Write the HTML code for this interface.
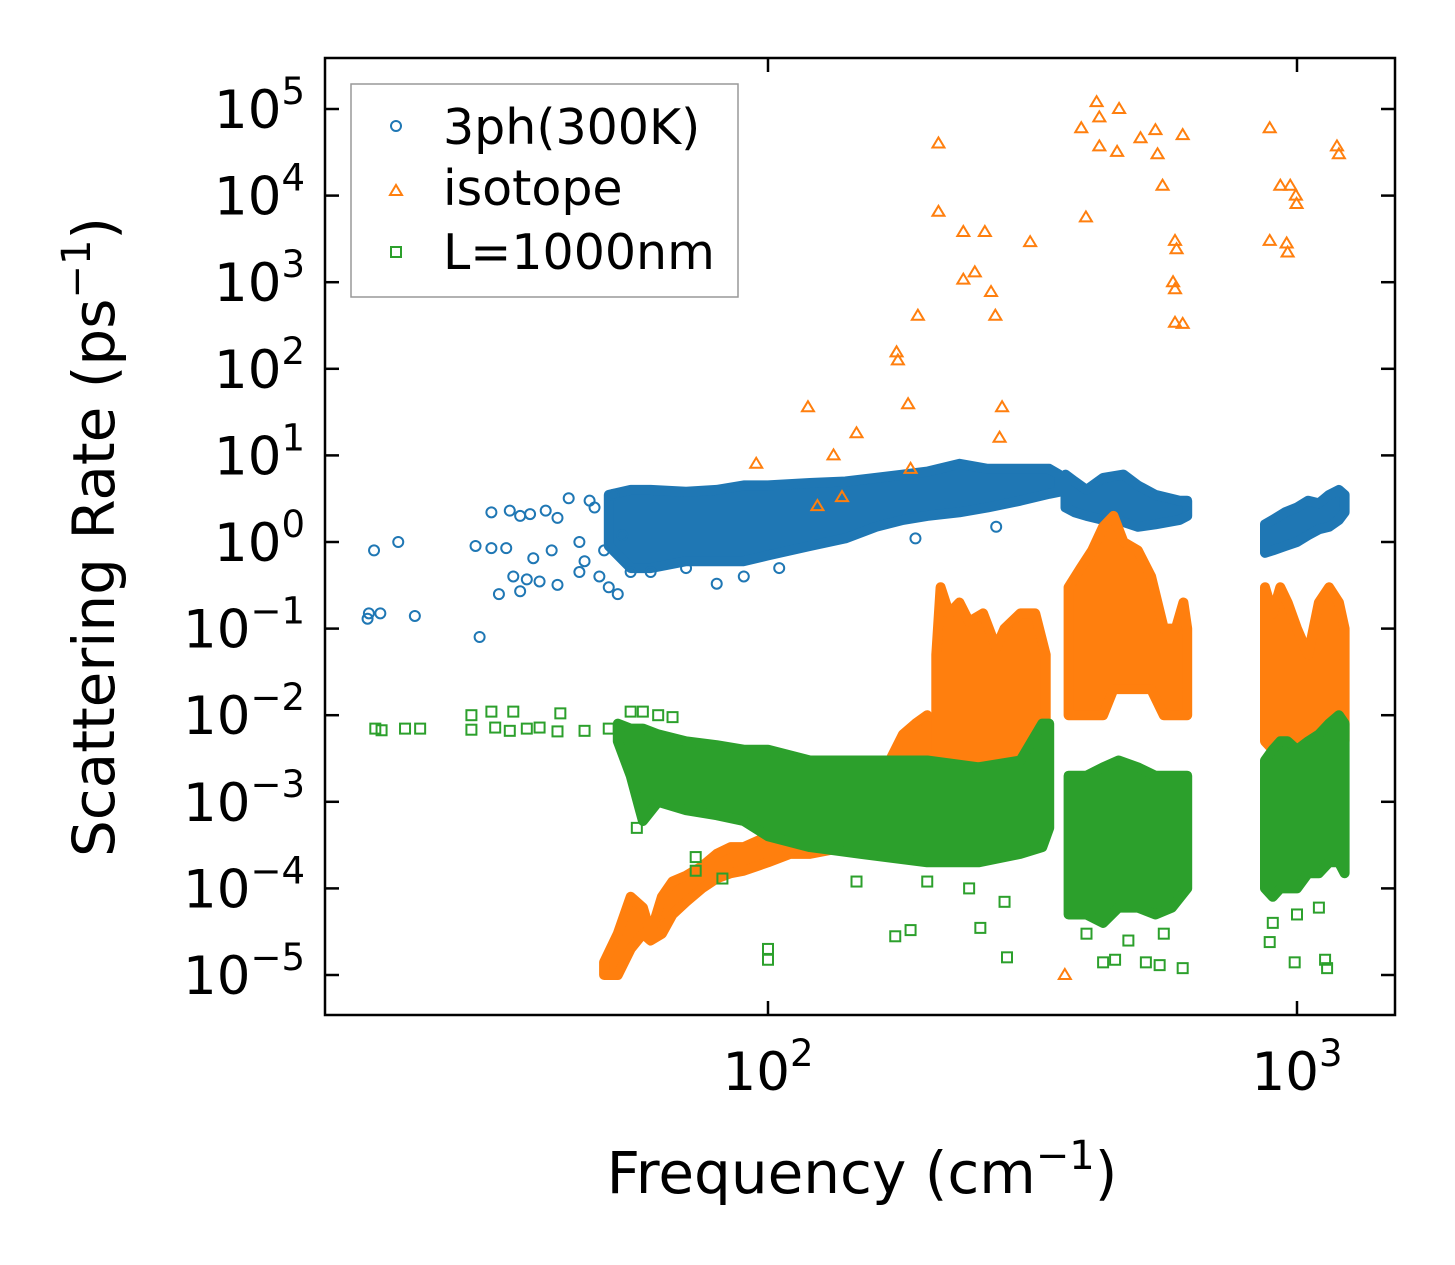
<!DOCTYPE html>
<html><head><meta charset="utf-8"><style>
html,body{margin:0;padding:0;background:#fff}
svg{display:block;font-family:"DejaVu Sans","Liberation Sans",sans-serif}
</style></head><body>
<svg id="chart" width="1455" height="1265" viewBox="0 0 1455 1265" xmlns="http://www.w3.org/2000/svg">
<rect x="0" y="0" width="1455" height="1265" fill="#fff"/>
<g id="plot"></g>
<g id="axes"></g>
<text x="862" y="1193" font-size="58" text-anchor="middle">Frequency (cm<tspan dy="-24" font-size="40">−1</tspan><tspan dy="24">)</tspan></text>
<text transform="translate(114,537) rotate(-90)" font-size="58" text-anchor="middle">Scattering Rate (ps<tspan dy="-24" font-size="40">−1</tspan><tspan dy="24">)</tspan></text>
<g>
<rect x="351" y="84" width="387" height="213" fill="#fff" stroke="#999" stroke-width="1.5"/>
<circle cx="396" cy="126" r="5" fill="none" stroke="#1f77b4" stroke-width="2"/>
<text x="443" y="144" font-size="49">3ph(300K)</text>
<path d="M390,195 L402,195 L396,185 Z" fill="none" stroke="#ff7f0e" stroke-width="2"/>
<text x="443" y="205" font-size="49">isotope</text>
<rect x="391" y="247" width="10" height="10" fill="none" stroke="#2ca02c" stroke-width="2"/>
<text x="443" y="269" font-size="49">L=1000nm</text>
</g>
</svg>
<script>
// axis ranges / ticks
const yTickExps = [-5,-4,-3,-2,-1,0,1,2,3,4,5];
const xTickExps = [2,3];
// 3ph (blue) dense bands
const blueBandFreq1 = [50,55,60,70,80,90,100,120,140,160,180,200,230,260,300,340,355];
const blueBandHi1 = [3.5,4,4,3.8,4,4.5,4.5,4.8,5,5.5,6,6.5,8,7,7,7,6];
const blueBandLo1 = [0.9,0.5,0.5,0.6,0.6,0.6,0.7,0.9,1.1,1.5,1.8,2.0,2.2,2.5,3,3.6,3.8];
const blueBandFreq2 = [365,380,400,430,470,500,540,600,620];
const blueBandHi2 = [6,5,4,5.5,6,4.5,3.5,3,3];
const blueBandLo2 = [2.5,2.2,2,1.8,1.7,1.5,1.6,1.8,2];
const blueBandFreq3 = [870,900,950,1000,1050,1100,1150,1200,1230];
const blueBandHi3 = [1.6,1.8,2.2,2.5,3,2.8,3.5,4,3.5];
const blueBandLo3 = [0.75,0.8,0.9,1,1.2,1.4,1.5,1.8,2.2];
// 3ph sparse points
const blueFreq = [17.5,17.6,18,18.5,20,21.5,28,28.5,30,30,31,32,32.5,33,34,34,35,35.5,36,37,38,40,40,39,42,44,45,46,48,50,52,55,60,70,80,90,105,190,270,44,47,49,51,53];
const blueVal = [0.13,0.15,0.8,0.15,1.0,0.14,0.9,0.08,0.85,2.2,0.25,0.85,2.3,0.4,2.0,0.27,0.37,2.1,0.65,0.35,2.3,0.32,1.9,0.8,3.2,0.45,0.6,3,0.4,0.3,0.25,0.45,0.45,0.5,0.33,0.4,0.5,1.1,1.5,1.0,2.5,0.8,3.5,1.2];
// isotope (orange) dense bands
const orangeBandFreq1 = [49,52,55,58,60,63,66,70,75,80,85,90,100,110,120,140,160,170,180,190,200,205];
const orangeBandHi1 = [1.4e-5,3e-5,8e-5,6e-5,3e-5,8e-5,1.2e-4,1.4e-4,1.8e-4,2.5e-4,3e-4,3e-4,4e-4,5e-4,5e-4,6e-4,1e-3,3e-3,6e-3,8e-3,1e-2,6e-3];
const orangeBandLo1 = [1e-5,1e-5,2e-5,3e-5,2.5e-5,3e-5,5e-5,7e-5,1e-4,1.3e-4,1.5e-4,1.6e-4,2e-4,2.5e-4,2.5e-4,3e-4,3e-4,3e-4,3e-4,4e-4,5e-4,5e-4];
const orangeBandFreq2 = [208,212,220,230,240,255,270,280,300,320,335];
const orangeBandHi2 = [0.05,0.3,0.15,0.2,0.12,0.15,0.06,0.1,0.15,0.15,0.05];
const orangeBandLo2 = [5e-4,6e-4,6e-4,6e-4,8e-4,1e-3,1.5e-3,2e-3,3e-3,3e-3,3e-3];
const orangeBandFreq3 = [370,390,410,430,450,470,500,530,560,590,610,620];
const orangeBandHi3 = [0.3,0.5,0.8,1.5,2,1,0.8,0.4,0.1,0.1,0.2,0.1];
const orangeBandLo3 = [0.01,0.01,0.01,0.01,0.02,0.02,0.02,0.02,0.01,0.01,0.01,0.01];
const orangeBandFreq4 = [870,900,930,960,1000,1050,1100,1150,1200,1230];
const orangeBandHi4 = [0.3,0.15,0.3,0.2,0.1,0.05,0.2,0.3,0.2,0.1];
const orangeBandLo4 = [0.005,0.004,0.004,0.004,0.004,0.004,0.004,0.005,0.005,0.005];
// isotope sparse points
const orangeFreq = [210,210,234,257,313,234,246,264,269,192,175,176,184,277,274,147,119,133,95,186,124,138,399,391,418,423,423,461,457,506,540,545,557,608,588,592,583,588,588,608,888,930,971,995,998,888,956,960,1190,1200,364];
const orangeVal = [4e4,6.5e3,3.8e3,3.8e3,2.9e3,1070,1300,770,410,410,155,125,39,36,16,18,36,10,8,7,2.6,3.3,5600,6e4,1.2e5,8e4,3.7e4,1e5,3.2e4,4.6e4,5.7e4,3e4,1.3e4,5e4,3e3,2.4e3,1000,830,340,330,6e4,1.3e4,1.3e4,1e4,8e3,3e3,2.8e3,2.2e3,3.7e4,3e4,1e-5];
// L=1000nm (green) dense bands
const greenBandFreq1 = [52,55,58,62,70,80,90,100,120,150,200,250,300,330,340];
const greenBandHi1 = [8e-3,7e-3,7e-3,6e-3,5e-3,4.5e-3,4e-3,4e-3,3e-3,3e-3,3e-3,2.5e-3,3e-3,8e-3,8e-3];
const greenBandLo1 = [5e-3,2e-3,6e-4,1e-3,8e-4,7e-4,6e-4,4e-4,3e-4,2.5e-4,2e-4,2e-4,2.5e-4,3e-4,5e-4];
const greenBandFreq2 = [370,400,430,460,500,540,580,620];
const greenBandHi2 = [2e-3,2e-3,2.5e-3,3e-3,2.5e-3,2e-3,2e-3,2e-3];
const greenBandLo2 = [5e-5,5e-5,4e-5,6e-5,6e-5,5e-5,6e-5,1e-4];
const greenBandFreq3 = [870,900,930,960,1000,1050,1100,1150,1200,1230];
const greenBandHi3 = [3e-3,4e-3,5e-3,5e-3,4e-3,5e-3,6e-3,8e-3,1e-2,8e-3];
const greenBandLo3 = [1e-4,8e-5,1e-4,1e-4,1e-4,1.5e-4,1.5e-4,2e-4,2e-4,1.5e-4];
// L=1000nm sparse points
const greenFreq = [18.1,18.6,20.6,22,27.5,27.5,30,33,40.5,30.5,32.5,35,37,40,45,50,100,100,174,186,252,283,453,430,518,550,608,888,990,1130,1140,56.5,73,73,82,147,55,58,62,66,200,240,280,400,480,560,900,1000,1100];
const greenVal = [0.007,0.0067,0.007,0.007,0.0068,0.01,0.011,0.011,0.0105,0.0072,0.0066,0.007,0.0072,0.0065,0.0066,0.007,2e-5,1.5e-5,2.8e-5,3.3e-5,3.5e-5,1.6e-5,1.5e-5,1.4e-5,1.4e-5,1.3e-5,1.2e-5,2.4e-5,1.4e-5,1.5e-5,1.2e-5,5e-4,2.3e-4,1.6e-4,1.3e-4,1.2e-4,0.011,0.011,0.01,0.0095,1.2e-4,1e-4,7e-5,3e-5,2.5e-5,3e-5,4e-5,5e-5,6e-5];

const L=325,R=1395,T=58,B=1015;
function xs(f){return 768+(Math.log10(f)-2)*529;}
function ys(v){return 975-(Math.log10(v)+5)*86.6;}
const NS='http://www.w3.org/2000/svg';
const plot=document.getElementById('plot');
const axes=document.getElementById('axes');
function mk(tag,parent){const e=document.createElementNS(NS,tag);parent.appendChild(e);return e;}

function band(fr,hi,lo,color,name){
  let d='M'+fr.map((f,i)=>xs(f).toFixed(1)+','+ys(hi[i]).toFixed(1)).join(' L');
  for(let i=fr.length-1;i>=0;i--) d+=' L'+xs(fr[i]).toFixed(1)+','+ys(lo[i]).toFixed(1);
  d+=' Z';
  const p=mk('path',plot);
  p.setAttribute('d',d);p.setAttribute('fill',color);p.setAttribute('stroke',color);
  p.setAttribute('stroke-width','10');p.setAttribute('stroke-linejoin','round');
  
  
}
function circles(fr,vals,name){
  fr.forEach((f,i)=>{const c=mk('circle',plot);
    c.setAttribute('cx',xs(f));c.setAttribute('cy',ys(vals[i]));c.setAttribute('r','5');
    c.setAttribute('fill','none');c.setAttribute('stroke','#1f77b4');c.setAttribute('stroke-width','2');
    
    });
}
function tris(fr,vals,name){
  fr.forEach((f,i)=>{const x=xs(f),y=ys(vals[i]);const p=mk('path',plot);
    p.setAttribute('d',`M${x-6},${y+4} L${x+6},${y+4} L${x},${y-6} Z`);
    p.setAttribute('fill','none');p.setAttribute('stroke','#ff7f0e');p.setAttribute('stroke-width','2');
    
    });
}
function squares(fr,vals,name){
  fr.forEach((f,i)=>{const x=xs(f),y=ys(vals[i]);const r=mk('rect',plot);
    r.setAttribute('x',x-5);r.setAttribute('y',y-5);r.setAttribute('width','10');r.setAttribute('height','10');
    r.setAttribute('fill','none');r.setAttribute('stroke','#2ca02c');r.setAttribute('stroke-width','2');
    
    });
}
band(blueBandFreq1,blueBandHi1,blueBandLo1,'#1f77b4','3ph-dense-band');
band(blueBandFreq2,blueBandHi2,blueBandLo2,'#1f77b4','3ph-dense-band');
band(blueBandFreq3,blueBandHi3,blueBandLo3,'#1f77b4','3ph-dense-band');
circles(blueFreq,blueVal,'3ph-point');
band(orangeBandFreq1,orangeBandHi1,orangeBandLo1,'#ff7f0e','isotope-dense-band');
band(orangeBandFreq2,orangeBandHi2,orangeBandLo2,'#ff7f0e','isotope-dense-band');
band(orangeBandFreq3,orangeBandHi3,orangeBandLo3,'#ff7f0e','isotope-dense-band');
band(orangeBandFreq4,orangeBandHi4,orangeBandLo4,'#ff7f0e','isotope-dense-band');
tris(orangeFreq,orangeVal,'isotope-point');
band(greenBandFreq1,greenBandHi1,greenBandLo1,'#2ca02c','boundary-dense-band');
band(greenBandFreq2,greenBandHi2,greenBandLo2,'#2ca02c','boundary-dense-band');
band(greenBandFreq3,greenBandHi3,greenBandLo3,'#2ca02c','boundary-dense-band');
squares(greenFreq,greenVal,'boundary-point');

// frame
const fr=mk('rect',axes);
fr.setAttribute('x',L);fr.setAttribute('y',T);fr.setAttribute('width',R-L);fr.setAttribute('height',B-T);
fr.setAttribute('fill','none');fr.setAttribute('stroke','#000');fr.setAttribute('stroke-width','2.5');


function line(x1,y1,x2,y2,name){const l=mk('line',axes);
  l.setAttribute('x1',x1);l.setAttribute('y1',y1);l.setAttribute('x2',x2);l.setAttribute('y2',y2);
  l.setAttribute('stroke','#000');l.setAttribute('stroke-width','2.5');
  
  }
yTickExps.forEach(e=>{const y=ys(Math.pow(10,e));
  line(L,y,L+14,y,'y-tick');line(R,y,R-14,y,'y-tick-right');
  const t=mk('text',axes);t.setAttribute('x',305);t.setAttribute('y',y+19);t.setAttribute('font-size','53');
  t.setAttribute('text-anchor','end');
  
  
  const s=(e<0?'−':'')+Math.abs(e);
  t.innerHTML='10<tspan dy="-24" font-size="37">'+s+'</tspan>';});
xTickExps.forEach(e=>{const x=xs(Math.pow(10,e));
  line(x,B,x,B-14,'x-tick');line(x,T,x,T+14,'x-tick-top');
  const t=mk('text',axes);t.setAttribute('x',x);t.setAttribute('y',1090);t.setAttribute('font-size','53');
  t.setAttribute('text-anchor','middle');
  
  
  t.innerHTML='10<tspan dy="-24" font-size="37">'+e+'</tspan>';});
</script>
</body></html>
